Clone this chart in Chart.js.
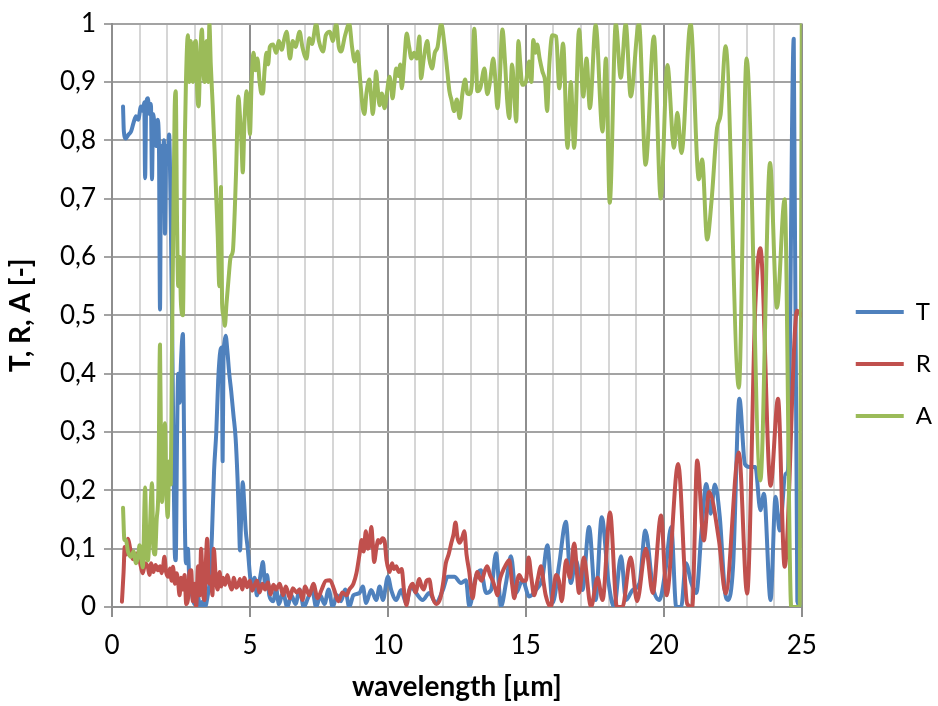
<!DOCTYPE html>
<html>
<head>
<meta charset="utf-8">
<title>T, R, A spectrum</title>
<script src="https://cdn.jsdelivr.net/npm/chart.js@4.4.0/dist/chart.umd.min.js"></script>
<style>
  html, body { margin: 0; padding: 0; background: #fff; }
  #wrap { width: 938px; height: 706px; }
</style>
</head>
<body>
<div id="wrap"><canvas id="chart" width="938" height="706"></canvas></div>
<script>
// wavelength [um], value
var seriesT = [
  [0.40,0.858],[0.43,0.815],[0.50,0.803],[0.60,0.810],[0.69,0.815],[0.78,0.830],[0.87,0.841],[0.95,0.835],
  [1.05,0.858],[1.12,0.850],[1.17,0.865],[1.20,0.735],[1.24,0.862],[1.30,0.872],[1.36,0.845],[1.41,0.862],
  [1.45,0.733],[1.49,0.845],[1.55,0.820],[1.60,0.790],[1.65,0.835],[1.70,0.800],[1.74,0.510],[1.78,0.790],
  [1.83,0.760],[1.88,0.800],[1.92,0.640],[1.97,0.790],[2.02,0.760],[2.07,0.810],[2.12,0.700],[2.17,0.520],
  [2.22,0.300],[2.27,0.100],[2.31,0.080],[2.36,0.300],[2.40,0.400],[2.45,0.350],[2.50,0.420],[2.57,0.468],
  [2.61,0.300],[2.64,0.150],[2.68,0.075],[2.75,0.100],[2.80,0.050],[2.90,0.020],[3.00,0.005],[3.10,0.020],
  [3.20,0.000],[3.30,0.010],[3.37,0.000],[3.47,0.020],[3.55,0.050],[3.62,0.120],[3.70,0.234],[3.78,0.300],
  [3.85,0.390],[3.93,0.440],[3.98,0.445],[4.01,0.250],[4.04,0.420],[4.08,0.455],[4.12,0.465],[4.18,0.440],
  [4.25,0.400],[4.32,0.370],[4.40,0.330],[4.48,0.290],[4.55,0.220],[4.60,0.150],[4.64,0.097],[4.68,0.150],
  [4.74,0.214],[4.79,0.180],[4.85,0.130],[4.92,0.100],[5.00,0.055],[5.08,0.030],[5.17,0.050],[5.25,0.020],
  [5.33,0.040],[5.40,0.060],[5.47,0.077],[5.55,0.040],[5.62,0.055],[5.70,0.020],[5.84,0.010],[5.95,0.030],
  [6.05,0.005],[6.20,0.025],[6.35,0.000],[6.50,0.020],[6.65,0.005],[6.80,0.030],[6.95,0.000],[7.10,0.015],
  [7.25,0.030],[7.40,0.000],[7.55,0.020],[7.70,0.005],[7.85,0.030],[8.00,0.000],[8.15,0.020],[8.30,0.010],
  [8.45,0.030],[8.60,0.000],[8.75,0.020],[8.97,0.024],[9.09,0.035],[9.21,0.007],[9.39,0.029],[9.58,0.012],
  [9.70,0.035],[9.82,0.012],[10.00,0.052],[10.12,0.029],[10.30,0.012],[10.48,0.029],[10.66,0.007],[10.84,0.035],
  [11.02,0.024],[11.26,0.012],[11.50,0.024],[11.74,0.007],[11.99,0.029],[12.17,0.052],[12.41,0.052],[12.65,0.041],
  [12.83,0.046],[12.95,0.001],[13.19,0.052],[13.37,0.063],[13.56,0.024],[13.74,0.029],[13.92,0.092],[14.10,0.001],
  [14.28,0.041],[14.46,0.087],[14.64,0.024],[14.88,0.046],[15.12,0.018],[15.36,0.029],[15.60,0.050],[15.78,0.106],
  [15.97,0.007],[16.21,0.074],[16.45,0.146],[16.63,0.041],[16.81,0.080],[17.05,0.029],[17.29,0.137],[17.53,0.012],
  [17.75,0.154],[18.00,0.041],[18.20,0.000],[18.45,0.087],[18.63,0.012],[18.87,0.029],[19.12,0.041],[19.33,0.131],
  [19.60,0.035],[19.84,0.012],[20.06,0.063],[20.27,0.137],[20.45,0.000],[20.63,0.000],[20.80,0.075],[21.00,0.041],
  [21.18,0.024],[21.36,0.126],[21.54,0.211],[21.70,0.160],[21.85,0.210],[22.03,0.154],[22.21,0.029],[22.33,0.012],
  [22.51,0.069],[22.74,0.357],[22.94,0.245],[23.10,0.240],[23.32,0.240],[23.50,0.166],[23.63,0.194],[23.87,0.012],
  [24.05,0.189],[24.20,0.131],[24.41,0.228],[24.50,0.234],[24.71,0.974],[24.84,0.010],[25.00,0.000]
];

var seriesR = [
  [0.36,0.009],[0.42,0.060],[0.46,0.103],[0.52,0.090],[0.58,0.117],[0.66,0.100],[0.76,0.082],[0.85,0.090],
  [0.94,0.092],[1.02,0.075],[1.12,0.058],[1.20,0.075],[1.30,0.068],[1.36,0.055],[1.42,0.075],[1.50,0.060],
  [1.58,0.072],[1.66,0.063],[1.74,0.070],[1.80,0.058],[1.85,0.068],[1.90,0.086],[1.96,0.060],[2.03,0.052],
  [2.10,0.066],[2.16,0.045],[2.21,0.069],[2.28,0.040],[2.34,0.058],[2.39,0.046],[2.45,0.020],[2.50,0.050],
  [2.57,0.030],[2.63,0.055],[2.69,0.005],[2.75,0.012],[2.81,0.060],[2.87,0.063],[2.93,0.010],[3.00,0.040],
  [3.05,0.000],[3.12,0.070],[3.18,0.020],[3.23,0.100],[3.29,0.030],[3.35,0.012],[3.40,0.075],[3.45,0.117],
  [3.52,0.040],[3.59,0.052],[3.64,0.020],[3.69,0.100],[3.76,0.050],[3.83,0.030],[3.90,0.060],[3.96,0.035],
  [4.02,0.050],[4.10,0.038],[4.18,0.055],[4.26,0.040],[4.34,0.030],[4.42,0.050],[4.50,0.033],[4.56,0.036],
  [4.64,0.048],[4.72,0.030],[4.80,0.050],[4.90,0.034],[5.00,0.045],[5.08,0.028],[5.16,0.036],[5.25,0.045],
  [5.35,0.025],[5.45,0.040],[5.55,0.030],[5.65,0.042],[5.75,0.022],[5.85,0.038],[5.95,0.030],[6.08,0.040],
  [6.20,0.020],[6.30,0.035],[6.45,0.015],[6.55,0.032],[6.70,0.025],[6.80,0.030],[6.90,0.012],[7.00,0.035],
  [7.15,0.020],[7.30,0.040],[7.45,0.015],[7.60,0.030],[7.75,0.045],[7.90,0.046],[8.05,0.030],[8.20,0.010],
  [8.35,0.025],[8.50,0.020],[8.60,0.030],[8.75,0.040],[8.86,0.058],[8.97,0.090],[9.05,0.115],[9.12,0.095],
  [9.20,0.130],[9.27,0.100],[9.33,0.105],[9.40,0.137],[9.45,0.110],[9.50,0.077],[9.58,0.100],[9.65,0.115],
  [9.72,0.110],[9.80,0.118],[9.88,0.113],[9.95,0.080],[10.06,0.060],[10.15,0.075],[10.22,0.065],[10.30,0.070],
  [10.40,0.060],[10.50,0.065],[10.58,0.030],[10.67,0.003],[10.78,0.030],[10.90,0.040],[11.00,0.025],[11.14,0.048],
  [11.22,0.035],[11.30,0.030],[11.40,0.045],[11.50,0.047],[11.60,0.020],[11.75,0.005],[11.90,0.015],[12.00,0.040],
  [12.10,0.075],[12.20,0.090],[12.30,0.110],[12.38,0.125],[12.45,0.145],[12.52,0.120],[12.60,0.110],[12.70,0.120],
  [12.77,0.130],[12.85,0.090],[12.95,0.060],[13.07,0.015],[13.15,0.040],[13.24,0.060],[13.32,0.050],[13.40,0.045],
  [13.50,0.060],[13.60,0.070],[13.70,0.055],[13.80,0.045],[13.90,0.030],[13.97,0.020],[14.05,0.045],[14.15,0.060],
  [14.25,0.070],[14.40,0.080],[14.50,0.040],[14.58,0.015],[14.67,0.040],[14.76,0.055],[14.88,0.045],[15.00,0.045],
  [15.10,0.085],[15.20,0.050],[15.30,0.020],[15.42,0.045],[15.55,0.070],[15.65,0.040],[15.72,0.020],[15.90,0.000],
  [16.00,0.030],[16.10,0.055],[16.20,0.045],[16.30,0.010],[16.46,0.080],[16.60,0.050],[16.75,0.109],[16.93,0.024],
  [17.10,0.085],[17.36,0.000],[17.60,0.050],[17.78,0.012],[18.05,0.162],[18.30,0.000],[18.50,0.000],[18.80,0.085],
  [19.03,0.010],[19.35,0.100],[19.60,0.024],[19.90,0.157],[20.10,0.020],[20.52,0.245],[20.85,0.005],[21.03,0.000],
  [21.21,0.251],[21.45,0.114],[21.64,0.197],[22.00,0.114],[22.24,0.023],[22.72,0.265],[23.02,0.023],[23.32,0.520],
  [23.50,0.615],[23.87,0.208],[24.14,0.357],[24.38,0.069],[24.83,0.508],[25.00,0.500]
];

var seriesA = [
  [0.40,0.170],[0.45,0.115],[0.50,0.115],[0.58,0.095],[0.69,0.086],[0.78,0.095],[0.87,0.075],[0.95,0.090],
  [1.00,0.106],[1.06,0.085],[1.12,0.068],[1.20,0.205],[1.25,0.100],[1.30,0.080],[1.36,0.120],[1.45,0.212],
  [1.50,0.100],[1.56,0.090],[1.62,0.150],[1.68,0.200],[1.74,0.450],[1.78,0.250],[1.81,0.180],[1.86,0.230],
  [1.92,0.315],[1.97,0.200],[2.02,0.154],[2.08,0.250],[2.13,0.210],[2.17,0.420],[2.22,0.650],[2.27,0.850],
  [2.31,0.884],[2.36,0.650],[2.40,0.550],[2.45,0.600],[2.50,0.520],[2.57,0.500],[2.61,0.650],[2.64,0.800],
  [2.68,0.900],[2.75,0.980],[2.80,0.900],[2.85,0.970],[2.93,0.900],[2.98,0.960],[3.04,0.970],[3.09,0.880],
  [3.14,0.858],[3.20,0.950],[3.26,0.990],[3.31,0.920],[3.36,0.900],[3.40,0.960],[3.44,0.970],[3.49,0.900],
  [3.53,1.000],[3.58,0.930],[3.65,0.860],[3.72,0.780],[3.78,0.700],[3.83,0.640],[3.89,0.550],[3.95,0.720],
  [3.99,0.520],[4.04,0.500],[4.09,0.482],[4.15,0.520],[4.22,0.560],[4.30,0.600],[4.38,0.610],[4.45,0.680],
  [4.50,0.750],[4.58,0.875],[4.64,0.840],[4.69,0.800],[4.74,0.745],[4.80,0.830],[4.88,0.884],[4.95,0.850],
  [5.00,0.810],[5.06,0.900],[5.13,0.950],[5.20,0.920],[5.27,0.940],[5.35,0.900],[5.42,0.880],[5.47,0.880],
  [5.53,0.920],[5.60,0.950],[5.66,0.930],[5.72,0.960],[5.84,0.964],[5.95,0.950],[6.05,0.970],[6.15,0.955],
  [6.25,0.975],[6.33,0.986],[6.45,0.940],[6.55,0.970],[6.65,0.960],[6.80,0.986],[6.90,0.960],[7.05,0.940],
  [7.15,0.975],[7.25,0.965],[7.40,1.000],[7.50,0.970],[7.65,0.952],[7.75,0.980],[7.90,0.986],[8.00,0.970],
  [8.13,1.000],[8.22,0.960],[8.30,0.952],[8.45,0.980],[8.60,1.000],[8.70,0.960],[8.80,0.935],[8.90,0.952],
  [9.00,0.900],[9.09,0.855],[9.15,0.845],[9.22,0.880],[9.33,0.904],[9.40,0.870],[9.45,0.845],[9.52,0.880],
  [9.57,0.918],[9.63,0.890],[9.70,0.860],[9.78,0.880],[9.88,0.855],[9.96,0.880],[10.06,0.909],[10.12,0.890],
  [10.17,0.872],[10.24,0.900],[10.30,0.923],[10.38,0.910],[10.45,0.930],[10.50,0.889],[10.60,0.940],[10.68,0.983],
  [10.77,0.960],[10.85,0.940],[10.95,0.950],[11.05,0.940],[11.14,0.978],[11.20,0.906],[11.30,0.940],[11.43,0.970],
  [11.50,0.940],[11.60,0.923],[11.70,0.950],[11.80,0.960],[11.93,1.000],[12.05,0.964],[12.15,0.920],[12.23,0.884],
  [12.30,0.870],[12.40,0.850],[12.50,0.870],[12.60,0.838],[12.70,0.880],[12.80,0.904],[12.88,0.880],[12.95,0.879],
  [13.05,0.900],[13.13,0.991],[13.20,0.930],[13.24,0.884],[13.35,0.890],[13.50,0.923],[13.60,0.879],[13.70,0.900],
  [13.82,0.940],[13.90,0.900],[13.97,0.855],[14.05,0.900],[14.15,0.990],[14.25,0.930],[14.32,0.870],[14.40,0.838],
  [14.50,0.930],[14.58,0.880],[14.65,0.832],[14.73,0.970],[14.80,0.930],[14.87,0.895],[15.00,0.900],[15.12,0.935],
  [15.20,0.900],[15.27,0.972],[15.35,0.950],[15.41,0.964],[15.50,0.940],[15.60,0.918],[15.70,0.900],[15.77,0.850],
  [15.85,0.930],[15.96,0.980],[16.10,0.978],[16.21,0.889],[16.35,0.966],[16.51,0.787],[16.63,0.900],[16.75,0.787],
  [16.93,0.990],[17.08,0.875],[17.20,0.940],[17.32,0.855],[17.53,0.998],[17.78,0.815],[17.90,0.940],[18.04,0.693],
  [18.26,1.000],[18.44,0.907],[18.62,1.000],[18.80,0.875],[19.10,1.000],[19.34,0.758],[19.64,0.978],[19.89,0.700],
  [20.13,0.929],[20.37,0.787],[20.49,0.847],[20.64,0.778],[20.97,1.000],[21.27,0.733],[21.39,0.767],[21.57,0.630],
  [21.73,0.696],[21.93,0.821],[22.06,0.844],[22.24,0.961],[22.72,0.376],[23.00,0.940],[23.50,0.217],[23.85,0.761],
  [24.10,0.513],[24.38,0.699],[24.62,0.000],[24.93,0.000],[25.00,1.000]
];

var xTickLabels = [0, 5, 10, 15, 20, 25];
var yTickLabels = ['0', '0,1', '0,2', '0,3', '0,4', '0,5', '0,6', '0,7', '0,8', '0,9', '1'];

var COLOR_T = '#4f81bd';
var COLOR_R = '#c0504d';
var COLOR_A = '#9bbb59';
var FONT = 'Lato, "Open Sans", sans-serif';
var MAJOR = '#8e8e8e';

function toPoints(rows) {
  return rows.map(function (r) { return { x: r[0], y: r[1] }; });
}

function lineSet(label, rows, color, order) {
  return {
    label: label,
    data: toPoints(rows),
    borderColor: color,
    backgroundColor: color,
    borderWidth: 4,
    pointRadius: 0,
    pointHoverRadius: 0,
    cubicInterpolationMode: 'monotone',
    borderCapStyle: 'round',
    borderJoinStyle: 'round',
    order: order
  };
}

function isMajor(c) {
  return c.tick && Math.round(c.tick.value) % 5 === 0;
}

var ctx = document.getElementById('chart').getContext('2d');
new Chart(ctx, {
  type: 'line',
  data: {
    datasets: [
      lineSet('T', seriesT, COLOR_T, 3),
      lineSet('R', seriesR, COLOR_R, 2),
      lineSet('A', seriesA, COLOR_A, 1)
    ]
  },
  options: {
    responsive: false,
    animation: false,
    devicePixelRatio: 1,
    layout: { padding: { top: 22, right: -4, bottom: 0, left: 0 } },
    plugins: {
      tooltip: { enabled: false },
      legend: {
        position: 'right',
        labels: {
          usePointStyle: true,
          pointStyle: 'line',
          pointStyleWidth: 48,
          padding: 28,
          color: '#000',
          font: { family: FONT, size: 24 },
          sort: function (a, b) { return a.datasetIndex - b.datasetIndex; }
        }
      }
    },
    scales: {
      x: {
        type: 'linear',
        min: 0,
        max: 25,
        ticks: {
          stepSize: 1,
          autoSkip: false,
          maxRotation: 0,
          padding: 13,
          color: '#000',
          font: { family: FONT, size: 26 },
          callback: function (v) { return xTickLabels.indexOf(v) >= 0 ? String(v) : ''; }
        },
        grid: {
          color: function (c) { return isMajor(c) ? MAJOR : '#d6d6d6'; },
          lineWidth: 2,
          tickLength: 10,
          tickColor: function (c) { return isMajor(c) ? MAJOR : 'rgba(0,0,0,0)'; }
        },
        border: { color: MAJOR, width: 2 },
        title: {
          display: true,
          text: 'wavelength [µm]',
          color: '#000',
          font: { family: FONT, size: 28, weight: 'bold' },
          padding: { top: 0, bottom: 2 }
        },
        afterFit: function (s) { s.height = 99; }
      },
      y: {
        min: 0,
        max: 1,
        ticks: {
          stepSize: 0.1,
          padding: 8,
          color: '#000',
          font: { family: FONT, size: 26 },
          callback: function (v) { return yTickLabels[Math.round(v * 10)]; }
        },
        grid: { color: '#a3a3a3', lineWidth: 2, tickLength: 8, tickColor: '#a3a3a3' },
        border: { color: MAJOR, width: 2 },
        title: {
          display: true,
          text: 'T, R, A [-]',
          color: '#000',
          font: { family: FONT, size: 28, weight: 'bold' },
          padding: { top: 4, bottom: 0 }
        },
        afterFit: function (s) { s.width = 112; }
      },
      // empty right-hand axis, only keeps the gap between plot and legend
      y2: {
        position: 'right',
        display: true,
        grid: { display: false, drawTicks: false },
        border: { display: false },
        ticks: { display: false },
        afterFit: function (s) { s.width = 26; }
      }
    }
  }
});
</script>
</body>
</html>
